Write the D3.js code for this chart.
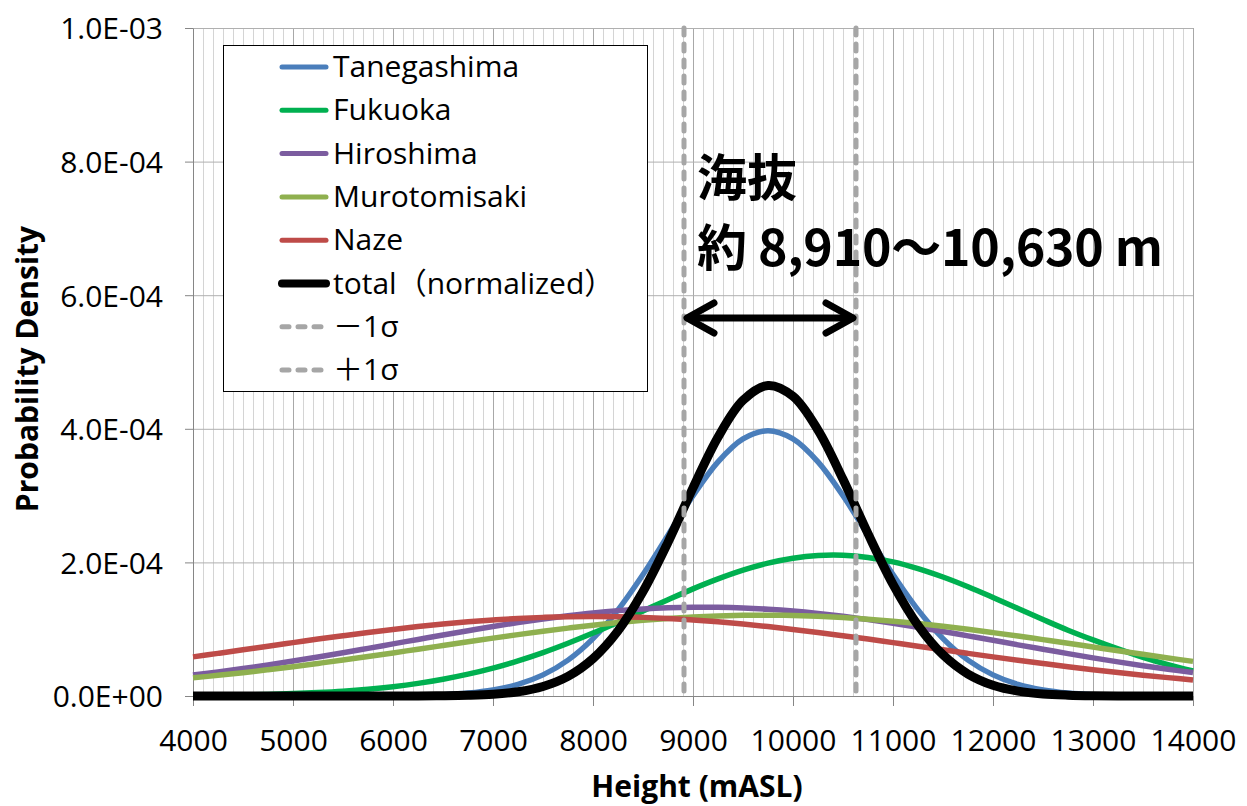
<!DOCTYPE html>
<html lang="en">
<head>
<meta charset="UTF-8">
<title>Probability Density</title>
<script src="https://cdn.jsdelivr.net/npm/d3@7/dist/d3.min.js"></script>
<style>
  body { margin: 0; background: #fff; }
  svg { display: block; font-family: "Open Sans", "Noto Sans CJK JP", sans-serif; }
  .axis text { font-family: "Open Sans", sans-serif; font-size: 30px; fill: #000; }
  .axis path, .axis line { stroke: #868686; }
  .legend text { font-size: 30px; fill: #000; }
  .note { font-family: "Noto Sans CJK JP", sans-serif; font-weight: 700; font-size: 50px; fill: #000; }
</style>
</head>
<body>
<script>
// heights (m) where the curves were read
var heights = [4000, 4250, 4500, 4750, 5000, 5250, 5500, 5750, 6000, 6250,
               6500, 6750, 7000, 7250, 7500, 7750, 8000, 8250, 8500, 8750,
               9000, 9250, 9500, 9750, 10000, 10250, 10500, 10750, 11000, 11250,
               11500, 11750, 12000, 12250, 12500, 12750, 13000, 13250, 13500, 13750, 14000];

// densities, in units of 1E-04
var tanegashima = [0, 0, 0, 0, 0, 0, 0, 0, 0.004, 0.009,
                   0.020, 0.044, 0.091, 0.174, 0.316, 0.537, 0.859, 1.289, 1.818, 2.408,
                   2.997, 3.504, 3.848, 3.970, 3.848, 3.504, 2.997, 2.408, 1.818, 1.289,
                   0.859, 0.537, 0.316, 0.174, 0.091, 0.044, 0.020, 0.009, 0.004, 0.001, 0];
var fukuoka = [0.007, 0.011, 0.016, 0.024, 0.036, 0.052, 0.073, 0.102, 0.140, 0.189,
               0.251, 0.327, 0.418, 0.526, 0.650, 0.790, 0.942, 1.105, 1.273, 1.441,
               1.604, 1.753, 1.884, 1.989, 2.063, 2.103, 2.107, 2.074, 2.007, 1.907,
               1.781, 1.635, 1.475, 1.310, 1.145, 0.985, 0.840, 0.705, 0.580, 0.470, 0.375];
var hiroshima = [0.313, 0.360, 0.411, 0.465, 0.523, 0.584, 0.647, 0.713, 0.780, 0.847,
                 0.914, 0.978, 1.041, 1.100, 1.154, 1.202, 1.244, 1.278, 1.304, 1.321,
                 1.329, 1.328, 1.318, 1.299, 1.272, 1.236, 1.193, 1.143, 1.088, 1.029,
                 0.966, 0.900, 0.834, 0.766, 0.700, 0.634, 0.571, 0.511, 0.454, 0.400, 0.351];
var murotomisaki = [0.272, 0.309, 0.349, 0.393, 0.439, 0.488, 0.538, 0.591, 0.645, 0.701,
                    0.756, 0.811, 0.866, 0.919, 0.969, 1.016, 1.060, 1.099, 1.133, 1.161,
                    1.183, 1.199, 1.208, 1.210, 1.205, 1.193, 1.175, 1.150, 1.120, 1.084,
                    1.043, 0.998, 0.949, 0.898, 0.844, 0.790, 0.734, 0.678, 0.624, 0.570, 0.518];
var naze = [0.586, 0.638, 0.691, 0.746, 0.799, 0.852, 0.902, 0.951, 0.997, 1.039,
            1.077, 1.110, 1.138, 1.161, 1.177, 1.187, 1.190, 1.187, 1.177, 1.161,
            1.138, 1.110, 1.077, 1.039, 0.997, 0.951, 0.902, 0.852, 0.799, 0.746,
            0.691, 0.638, 0.586, 0.535, 0.486, 0.438, 0.393, 0.351, 0.312, 0.275, 0.241];
var total = [0, 0, 0, 0, 0, 0, 0, 0, 0, 0,
             0.003, 0.010, 0.026, 0.064, 0.143, 0.294, 0.560, 0.975, 1.563, 2.300,
             3.115, 3.873, 4.426, 4.649, 4.487, 3.980, 3.244, 2.430, 1.672, 1.058,
             0.616, 0.329, 0.161, 0.073, 0.030, 0.012, 0.004, 0.001, 0, 0, 0];

var sigmaHeights = [8910, 10630];
var sigmaNames = ["－1σ", "＋1σ"];

var seriesNames = ["Tanegashima", "Fukuoka", "Hiroshima", "Murotomisaki", "Naze", "total（normalized）"];
var seriesValues = [tanegashima, fukuoka, hiroshima, murotomisaki, naze, total];
var seriesColors = ["#4a7ebb", "#00b050", "#7b5c9f", "#8fb04f", "#be4b48", "#000000"];

var xTicks = [4000, 5000, 6000, 7000, 8000, 9000, 10000, 11000, 12000, 13000, 14000];
var yTicks = [0, 2, 4, 6, 8, 10];

var width = 1247, height = 806;
var plotLeft = 193, plotRight = 1193, plotTop = 28, plotBottom = 696;

var svg = d3.select("body").append("svg")
  .attr("width", width)
  .attr("height", height);

var x = d3.scaleLinear().domain([4000, 14000]).range([plotLeft, plotRight]);
var y = d3.scaleLinear().domain([0, 10]).range([plotBottom, plotTop]);

// 0.0E+00 style labels
function sci(v) {
  var val = v * 1e-4;
  if (val === 0) return "0.0E+00";
  var e = Math.floor(Math.log10(val) + 1e-9);
  var m = val / Math.pow(10, e);
  return m.toFixed(1) + "E" + (e < 0 ? "-" : "+") + String(Math.abs(e)).padStart(2, "0");
}

// grid
var grid = svg.append("g");
grid.selectAll(".minor")
  .data(x.ticks(100).filter(function(d) { return d % 1000 !== 0; }))
  .enter().append("line")
  .attr("x1", function(d) { return x(d) + 0.5; })
  .attr("x2", function(d) { return x(d) + 0.5; })
  .attr("y1", plotTop).attr("y2", plotBottom)
  .attr("stroke", "#d4d4d4").attr("stroke-width", 1);
grid.selectAll(".major")
  .data(xTicks.slice(1))
  .enter().append("line")
  .attr("x1", function(d) { return x(d) + 0.5; })
  .attr("x2", function(d) { return x(d) + 0.5; })
  .attr("y1", plotTop).attr("y2", plotBottom)
  .attr("stroke", "#a8a8a8").attr("stroke-width", 1);
grid.selectAll(".hgrid")
  .data(yTicks.slice(1))
  .enter().append("line")
  .attr("x1", plotLeft).attr("x2", plotRight)
  .attr("y1", function(d) { return y(d) + 0.5; })
  .attr("y2", function(d) { return y(d) + 0.5; })
  .attr("stroke", "#b0b0b0").attr("stroke-width", 1);

// axes
var xAxis = svg.append("g")
  .attr("class", "axis")
  .attr("transform", "translate(0," + plotBottom + ")")
  .call(d3.axisBottom(x).tickValues(xTicks).tickSize(10).tickSizeOuter(0).tickFormat(d3.format("d")));
xAxis.selectAll("text").attr("y", 55).attr("dy", 0);

var yAxis = svg.append("g")
  .attr("class", "axis")
  .attr("transform", "translate(" + plotLeft + ",0)")
  .call(d3.axisLeft(y).tickValues(yTicks).tickSize(8).tickSizeOuter(0).tickPadding(22).tickFormat(sci));
yAxis.selectAll("text").attr("dy", "0.36em");

// axis titles
svg.append("text")
  .attr("x", (plotLeft + plotRight) / 2 + 4)
  .attr("y", 797)
  .attr("text-anchor", "middle")
  .style("font-size", "30px").style("font-weight", 700)
  .text("Height (mASL)");

svg.append("text")
  .attr("transform", "translate(38,369) rotate(-90)")
  .attr("text-anchor", "middle")
  .style("font-size", "30px").style("font-weight", 700)
  .text("Probability Density");

// curves
var line = d3.line()
  .x(function(d) { return x(d[0]); })
  .y(function(d) { return y(d[1]); })
  .curve(d3.curveCatmullRom.alpha(0.5));

var curves = seriesNames.map(function(name, i) {
  return {
    name: name,
    color: seriesColors[i],
    width: i === 5 ? 9 : 5.5,
    points: heights.map(function(h, j) { return [h, seriesValues[i][j]]; })
  };
});

svg.append("g").selectAll("path")
  .data(curves)
  .enter().append("path")
  .attr("d", function(d) { return line(d.points); })
  .attr("fill", "none")
  .attr("stroke", function(d) { return d.color; })
  .attr("stroke-width", function(d) { return d.width; })
  .attr("stroke-linejoin", "round");

// ±1 sigma lines
svg.append("g").selectAll("line")
  .data(sigmaHeights)
  .enter().append("line")
  .attr("x1", function(d) { return x(d); })
  .attr("x2", function(d) { return x(d); })
  .attr("y1", y(10)).attr("y2", y(0))
  .attr("stroke", "#a6a6a6")
  .attr("stroke-width", 5)
  .attr("stroke-dasharray", "7,9")
  .attr("stroke-linecap", "round");

// legend
var legend = svg.append("g").attr("class", "legend");
legend.append("rect")
  .attr("x", 223.5).attr("y", 45.5)
  .attr("width", 424).attr("height", 346)
  .attr("fill", "#fff").attr("stroke", "#000").attr("stroke-width", 1);

var legendItems = curves.map(function(c) {
  return { name: c.name, color: c.color, width: c.width === 9 ? 8 : 5, dash: null };
}).concat(sigmaNames.map(function(n) {
  return { name: n, color: "#a6a6a6", width: 5, dash: "7,9" };
}));

var rows = legend.selectAll(".row")
  .data(legendItems)
  .enter().append("g")
  .attr("transform", function(d, i) { return "translate(0," + (67 + i * 43.3) + ")"; });
rows.append("line")
  .attr("x1", 282).attr("x2", 326)
  .attr("stroke", function(d) { return d.color; })
  .attr("stroke-width", function(d) { return d.width; })
  .attr("stroke-linecap", "round")
  .attr("stroke-dasharray", function(d) { return d.dash; });
rows.append("text")
  .attr("x", 333).attr("y", 10)
  .text(function(d) { return d.name; });

// annotation
var ax1 = x(sigmaHeights[0]), ax2 = x(sigmaHeights[1]), ay = 318;
var note = svg.append("g");
note.append("text").attr("class", "note")
  .attr("x", ax1 + 13).attr("y", 196)
  .text("海抜");
note.append("text").attr("class", "note")
  .attr("x", ax1 + 13).attr("y", 266)
  .attr("textLength", 466).attr("lengthAdjust", "spacing")
  .text("約 8,910～10,630 m");

var arrow = note.append("g")
  .attr("fill", "none").attr("stroke", "#000")
  .attr("stroke-width", 7).attr("stroke-linecap", "round").attr("stroke-linejoin", "round");
arrow.append("line").attr("x1", ax1 + 4).attr("x2", ax2 - 4).attr("y1", ay).attr("y2", ay);
arrow.append("polyline")
  .attr("points", [[ax1 + 30, ay - 15], [ax1 + 3, ay], [ax1 + 30, ay + 15]].join(" "));
arrow.append("polyline")
  .attr("points", [[ax2 - 30, ay - 15], [ax2 - 3, ay], [ax2 - 30, ay + 15]].join(" "));
</script>
</body>
</html>
